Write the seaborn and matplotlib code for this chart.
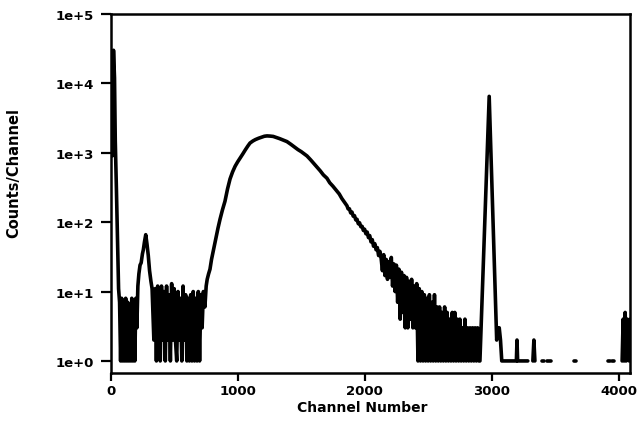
import numpy as np
import pandas as pd
import matplotlib
matplotlib.use("Agg")
import matplotlib.pyplot as plt
from matplotlib.ticker import FixedLocator, FixedFormatter, NullLocator
import seaborn as sns

# Spectrum (channel, counts); None = empty channels (gap)
channel = [
    # low-energy spike
    12, 22, 30, 36, 45, 55, 62,
    # noise floor 1
    70, 78, 86, 94, 102, 110, 118, 126, 134, 142, 150, 158, 166, 174, 182, 190, 198, 206,
    # small bump
    214, 222, 231, 240, 250, 257, 266, 276, 286, 296, 306, 317, 326,
    # noise floor 2
    340, 350, 360, 370, 380, 390, 400, 410, 420, 430, 440, 450, 460, 470, 480, 490,
    500, 510, 520, 530, 540, 550, 560, 570, 580, 590, 600, 610, 620, 630, 640, 650,
    660, 670, 680, 690, 700, 710, 720, 730, 742,
    # broad continuum
    752, 760, 771, 782, 794, 806, 818, 830, 845, 861, 880, 900, 920, 940, 960, 980,
    1000, 1018, 1040, 1060, 1080, 1097, 1120, 1140, 1165, 1190, 1210, 1231, 1255, 1280,
    1305, 1330, 1360, 1388, 1420, 1450, 1475, 1500, 1525, 1546, 1575, 1600, 1625, 1650,
    1675, 1703, 1725, 1750, 1775, 1800, 1820, 1840, 1861, 1870, 1880, 1890, 1900, 1910,
    1920, 1930, 1940, 1950, 1960, 1970, 1980, 1990, 2000, 2010, 2020, 2030, 2040, 2050,
    2060, 2070, 2080, 2090, 2100, 2110, 2120,
    # noisy tail
    2130, 2140, 2150, 2160, 2170, 2180, 2190, 2200, 2210, 2220, 2230, 2240, 2250, 2260,
    2270, 2280, 2290, 2300, 2310, 2320, 2330, 2340, 2350, 2360, 2370, 2380, 2390, 2400,
    2410, 2420, 2430, 2440, 2450, 2460, 2470, 2480, 2490, 2500, 2510, 2520, 2530, 2540,
    2550, 2560, 2570, 2580, 2590, 2600, 2610, 2620, 2630, 2640, 2650, 2660, 2670, 2680,
    2690, 2700, 2710, 2720, 2730, 2740, 2750, 2760, 2770, 2780, 2790, 2800, 2810, 2820,
    2830, 2840, 2850, 2860, 2870, 2880, 2890, 2900,
    # sharp peak and sparse high channels
    2908, 2981, 3040, 3050, 3060, 3070, 3080, 3140, 3195, 3200, 3205, 3285, None,
    3325, 3333, 3341, None, 3400, 3412, None, 3440, 3465, None, 3650, 3662, None,
    3920, 3930, None, 3952, 3962, None,
    4028, 4036, 4044, 4052, 4060, 4068, 4076, 4084, 4090,
]

counts = [
    900, 30000, 12000, 1500, 300, 40, 11,
    7, 1, 8, 1, 6, 1, 8, 1, 7, 1, 6, 1, 8, 1, 7, 1, 8, 3,
    12, 18, 24, 26, 35, 40, 52, 66, 48, 33, 20, 14, 11,
    2, 11, 1, 12, 2, 1, 12, 2, 10, 1, 12, 2, 9, 1, 13, 2,
    11, 2, 1, 10, 2, 8, 1, 12, 2, 9, 1, 8, 1, 9, 1, 10,
    1, 8, 1, 10, 1, 9, 3, 10, 6,
    12, 15, 18, 21, 29, 37, 48, 60, 82, 110, 150, 200, 300, 420, 530, 640,
    740, 830, 960, 1100, 1250, 1380, 1480, 1550, 1620, 1680, 1730, 1750, 1740, 1720,
    1660, 1600, 1520, 1450, 1320, 1200, 1110, 1040, 960, 900, 790, 700, 620, 550,
    480, 430, 370, 330, 290, 255, 220, 195, 172, 155, 156, 136, 140, 122,
    124, 108, 110, 95, 98, 86, 87, 76, 79, 68, 72, 60, 64, 52,
    56, 45, 49, 40, 43, 33, 38,
    30, 20, 34, 17, 29, 15, 27, 16, 31, 12, 25, 10, 24, 7,
    21, 4, 19, 5, 17, 3, 16, 3, 14, 4, 15, 3, 12, 3,
    13, 1, 11, 1, 10, 1, 9, 1, 8, 1, 9, 1, 7, 1,
    9, 1, 6, 1, 6, 1, 5, 1, 6, 1, 5, 1, 4, 1,
    5, 1, 5, 1, 4, 1, 4, 1, 3, 1, 4, 1, 3, 1,
    3, 1, 3, 1, 3, 1, 3, 1,
    1, 6500, 2, 3, 3, 2, 1, 1, 1, 2, 1, 1, None,
    1, 2, 1, None, 1, 1, None, 1, 1, None, 1, 1, None,
    1, 1, None, 1, 1, None,
    1, 4, 1, 5, 1, 4, 2, 1, 4,
]

x_ticks = [0, 1000, 2000, 3000, 4000]
y_ticks = [1, 10, 100, 1000, 10000, 100000]
y_tick_labels = ["1e+0", "1e+1", "1e+2", "1e+3", "1e+4", "1e+5"]

sns.set_style("ticks")
plt.rcParams['font.family'] = ['DejaVu Sans']
plt.rcParams['font.weight'] = 'bold'
plt.rcParams['text.color'] = 'black'
plt.rcParams['axes.labelcolor'] = 'black'

df = pd.DataFrame({"channel": channel, "counts": counts}, dtype=float)
df["segment"] = df["counts"].isna().cumsum()
df = df.dropna()

fig = plt.figure(figsize=(6.41, 4.27), dpi=100)
ax = fig.add_axes([110.7 / 641, 1 - 374 / 427, (630 - 110.7) / 641, (374 - 15) / 427])

sns.lineplot(data=df, x="channel", y="counts", units="segment", estimator=None,
             sort=False, color="black", linewidth=2.6, ax=ax)

ax.set_yscale("log")
ax.set_xlim(0, 4090)
ax.set_ylim(0.67, 1e5)
ax.xaxis.set_major_locator(FixedLocator(x_ticks))
ax.yaxis.set_major_locator(FixedLocator(y_ticks))
ax.yaxis.set_major_formatter(FixedFormatter(y_tick_labels))
ax.yaxis.set_minor_locator(NullLocator())

for side in ["left", "right", "top", "bottom"]:
    ax.spines[side].set_visible(True)
    ax.spines[side].set_linewidth(1.8)
    ax.spines[side].set_color("black")

ax.tick_params(axis="y", direction="out", length=7, width=1.6, colors="black",
               labelsize=9.5, pad=5)
ax.tick_params(axis="x", direction="out", length=6, width=1.6, colors="black",
               labelsize=9.5, pad=2)
for lbl in ax.get_xticklabels() + ax.get_yticklabels():
    lbl.set_fontweight("bold")

ax.set_xlabel("Channel Number", fontsize=10, fontweight="bold", color="black")
ax.set_ylabel("Counts/Channel", fontsize=10.5, fontweight="bold", color="black")
ax.xaxis.set_label_coords(0.484, -0.074)
ax.yaxis.set_label_coords(-0.173, 0.56)

fig.savefig("out.png", dpi=100)
